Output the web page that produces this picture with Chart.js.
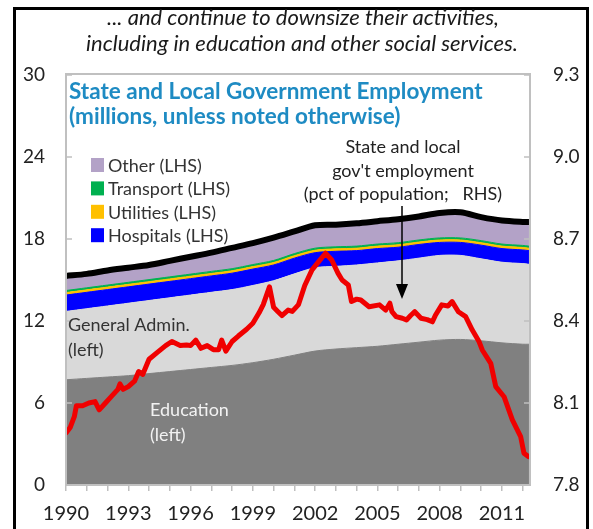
<!DOCTYPE html>
<html><head><meta charset="utf-8">
<script src="https://cdn.jsdelivr.net/npm/chart.js@4/dist/chart.umd.min.js"></script>
<style>html,body{margin:0;padding:0;background:#fff;}canvas{display:block}</style>
</head><body>
<canvas id="c" width="593" height="529"></canvas>
<script>
// ---- data ----
const stackYears   = [1990,1991,1992,1993,1994,1995,1996,1997,1998,1999,2000,2001,2002,2003,2004,2005,2006,2007,2008,2009,2010,2011,2012,2012.3];
const education    = [7.7,7.8,7.9,8.0,8.15,8.3,8.45,8.6,8.75,8.95,9.2,9.5,9.8,9.95,10.05,10.15,10.3,10.45,10.6,10.65,10.55,10.4,10.3,10.3];
const generalAdmin = [5.0,5.1,5.2,5.3,5.35,5.4,5.45,5.5,5.55,5.65,5.75,5.95,6.1,6.05,6.05,6.1,6.1,6.15,6.2,6.15,6.0,5.9,5.9,5.85];
const hospitals    = [1.2,1.2,1.2,1.2,1.2,1.2,1.2,1.2,1.2,1.2,1.15,1.15,1.1,1.1,1.05,1.05,1.0,1.0,0.95,0.95,1.0,1.0,1.0,1.0];
const utilities    = [0.18,0.18,0.18,0.18,0.18,0.18,0.18,0.18,0.18,0.18,0.18,0.18,0.18,0.18,0.18,0.18,0.18,0.18,0.18,0.18,0.18,0.18,0.18,0.18];
const transport    = [0.15,0.15,0.15,0.15,0.15,0.15,0.15,0.15,0.15,0.15,0.15,0.15,0.15,0.15,0.15,0.15,0.15,0.15,0.15,0.15,0.15,0.15,0.15,0.15];
const other        = [1.07,1.02,1.07,1.07,1.07,1.17,1.27,1.37,1.52,1.57,1.67,1.62,1.67,1.62,1.67,1.67,1.72,1.72,1.82,1.87,1.72,1.72,1.72,1.77];

const redYears  = [1990.0,1990.2,1990.4,1990.5,1990.8,1991.1,1991.4,1991.6,1991.9,1992.2,1992.5,1992.6,1992.75,1993.0,1993.3,1993.5,1993.7,1994.0,1994.4,1994.8,1995.1,1995.5,1995.8,1996.0,1996.25,1996.5,1996.8,1997.1,1997.35,1997.5,1997.7,1998.0,1998.3,1998.7,1999.0,1999.3,1999.5,1999.8,2000.0,2000.2,2000.4,2000.7,2000.9,2001.2,2001.5,2001.85,2002.2,2002.5,2002.8,2003.1,2003.3,2003.6,2003.75,2004.0,2004.2,2004.6,2005.1,2005.4,2005.6,2005.7,2005.9,2006.2,2006.4,2006.6,2006.8,2007.1,2007.4,2007.65,2007.8,2008.1,2008.4,2008.6,2008.9,2009.25,2009.57,2009.9,2010.05,2010.46,2010.7,2011.1,2011.5,2011.9,2012.06,2012.27];
const redValues = [7.99,8.01,8.05,8.09,8.09,8.10,8.105,8.075,8.10,8.125,8.15,8.17,8.15,8.16,8.18,8.215,8.205,8.26,8.285,8.31,8.325,8.31,8.312,8.31,8.33,8.30,8.31,8.295,8.295,8.33,8.29,8.325,8.345,8.37,8.392,8.43,8.46,8.525,8.45,8.435,8.42,8.44,8.435,8.46,8.53,8.587,8.62,8.648,8.623,8.575,8.55,8.532,8.471,8.48,8.477,8.452,8.459,8.44,8.465,8.434,8.416,8.41,8.404,8.42,8.434,8.41,8.405,8.397,8.422,8.459,8.455,8.471,8.434,8.416,8.367,8.324,8.294,8.245,8.16,8.123,8.038,7.977,7.916,7.904];

const leftTicks  = [0,6,12,18,24,30];
const rightTicks = [7.8,8.1,8.4,8.7,9.0,9.3];
const xTickYears = [1990,1991,1992,1993,1994,1995,1996,1997,1998,1999,2000,2001,2002,2003,2004,2005,2006,2007,2008,2009,2010,2011,2012];
const xLabelYears = [1990,1993,1996,1999,2002,2005,2008,2011];

const legendLabels = ['Other (LHS)','Transport (LHS)','Utilities (LHS)','Hospitals (LHS)'];
const legendColors = ['#B3A2C7','#00B050','#FFC000','#0000FF'];

// ---- build cumulative stack for the library ----
const components = [education, generalAdmin, hospitals, utilities, transport, other];
const compColors = ['#808080','#D9D9D9','#0000FF','#FFC000','#00B050','#B3A2C7'];
const compNames = ['Education','General Admin.','Hospitals','Utilities','Transport','Other'];
const cum = [];
components.forEach((arr, k) => {
  cum.push(arr.map((v, i) => (k ? cum[k-1][i] : 0) + v));
});
const areaSets = components.map((arr, k) => ({
  label: compNames[k],
  data: stackYears.map((x, i) => ({x, y: cum[k][i]})),
  yAxisID: 'y',
  backgroundColor: compColors[k],
  borderColor: compColors[k],
  borderWidth: 1,
  pointRadius: 0,
  fill: k === 0 ? 'origin' : '-1',
  tension: 0.3,
  order: 2
}));
const totalSet = {
  label: 'Total',
  data: stackYears.map((x, i) => ({x, y: cum[5][i]})),
  yAxisID: 'y', borderColor: '#000', borderWidth: 6, pointRadius: 0, fill: false, tension: 0.3, order: 1
};
const redSet = {
  label: 'pct of population',
  data: redYears.map((x, i) => ({x, y: redValues[i]})),
  yAxisID: 'y2', borderColor: '#F00000', borderWidth: 5, pointRadius: 0, fill: false, tension: 0, order: 0,
  borderJoinStyle: 'round', borderCapStyle: 'round'
};

const FONT = 'Lato, "Open Sans", sans-serif';
const TXT = '#222';

const decor = {
  id: 'decor',
  afterDatasetsDraw(chart) {
    const {ctx, chartArea: a, scales} = chart;
    ctx.save();
    ctx.strokeStyle = '#C0C0C0'; ctx.lineWidth = 2;
    ctx.strokeRect(a.left, a.top - 1, a.right - a.left, a.bottom - a.top + 1);
    ctx.lineWidth = 1.5; ctx.strokeStyle = '#BFBFBF';
    leftTicks.forEach(v => { const y = scales.y.getPixelForValue(v); ctx.beginPath(); ctx.moveTo(a.left, y); ctx.lineTo(a.left + 6, y); ctx.stroke(); });
    rightTicks.forEach(v => { const y = scales.y2.getPixelForValue(v); ctx.beginPath(); ctx.moveTo(a.right, y); ctx.lineTo(a.right - 6, y); ctx.stroke(); });
    ctx.restore();
  },
  afterDraw(chart) {
    const {ctx} = chart;
    ctx.save();
    ctx.strokeStyle = '#000'; ctx.lineWidth = 3;
    ctx.strokeRect(14.5, 8.5, 573, 600);
    ctx.fillStyle = '#1a1a1a'; ctx.textAlign = 'center'; ctx.textBaseline = 'middle';
    ctx.font = 'italic 22px ' + FONT;
    ctx.fillText('... and continue to downsize their activities,', 303, 18);
    ctx.fillText('including in education and other social services.', 302, 44);
    ctx.textAlign = 'left'; ctx.fillStyle = '#1E8BC3'; ctx.font = 'bold 22.5px ' + FONT;
    ctx.fillText('State and Local Government Employment', 69, 92);
    ctx.fillText('(millions, unless noted otherwise)', 69, 117);
    ctx.font = '18px ' + FONT;
    legendLabels.forEach((t, i) => {
      const cy = 165 + i * 23.4;
      ctx.fillStyle = legendColors[i]; ctx.fillRect(91, cy - 7, 13, 14);
      ctx.fillStyle = '#333'; ctx.fillText(t, 108, cy + 1);
    });
    ctx.textAlign = 'center'; ctx.fillStyle = '#222';
    ctx.fillText('State and local', 403, 147);
    ctx.fillText("gov't employment", 403, 171);
    ctx.fillText('(pct of population;   RHS)', 403, 194);
    ctx.strokeStyle = '#000'; ctx.lineWidth = 1.5;
    ctx.beginPath(); ctx.moveTo(402, 206); ctx.lineTo(402, 290); ctx.stroke();
    ctx.fillStyle = '#000'; ctx.beginPath(); ctx.moveTo(396, 284); ctx.lineTo(408, 284); ctx.lineTo(402, 299); ctx.closePath(); ctx.fill();
    ctx.textAlign = 'left'; ctx.fillStyle = '#333';
    ctx.fillText('General Admin.', 68, 325);
    ctx.fillText('(left)', 68, 350);
    ctx.fillStyle = '#F2F2F2';
    ctx.fillText('Education', 150, 410);
    ctx.fillText('(left)', 150, 435);
    ctx.restore();
  }
};

new Chart(document.getElementById('c'), {
  type: 'line',
  data: { datasets: [...areaSets, totalSet, redSet] },
  options: {
    responsive: false, animation: false, devicePixelRatio: 1,
    layout: { padding: { left: 0, right: 0, top: 75, bottom: 0 } },
    plugins: { legend: { display: false }, tooltip: { enabled: false } },
    scales: {
      x: {
        type: 'linear', min: 1990, max: 2012.35,
        afterBuildTicks: s => { s.ticks = xTickYears.map(v => ({value: v})); },
        afterFit: s => { s.height = 44; },
        ticks: { autoSkip: false, maxRotation: 0, padding: 11, color: TXT, font: { family: FONT, size: 20 },
          callback: v => xLabelYears.includes(v) ? String(v) : '' },
        grid: { drawOnChartArea: false, drawTicks: true, tickLength: 6, color: '#BFBFBF', lineWidth: 1.5 },
        border: { display: true, color: '#BFBFBF', width: 2 }
      },
      y: {
        position: 'left', min: 0, max: 30,
        afterBuildTicks: s => { s.ticks = leftTicks.map(v => ({value: v})); },
        afterFit: s => { s.width = 66; },
        ticks: { padding: 21, color: TXT, font: { family: FONT, size: 19 } },
        grid: { drawOnChartArea: false, drawTicks: false },
        border: { display: false }
      },
      y2: {
        position: 'right', min: 7.8, max: 9.3,
        afterBuildTicks: s => { s.ticks = rightTicks.map(v => ({value: v})); },
        afterFit: s => { s.width = 63; },
        ticks: { padding: 23, color: TXT, font: { family: FONT, size: 19 }, callback: v => Number(v).toFixed(1) },
        grid: { drawOnChartArea: false, drawTicks: false },
        border: { display: false }
      }
    }
  },
  plugins: [decor]
});
</script>
</body></html>
